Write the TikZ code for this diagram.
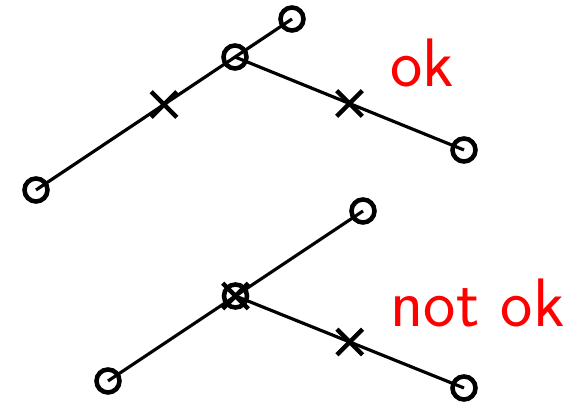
\documentclass[tikz,border=0pt]{standalone}
\usepackage{xcolor}
\usepackage{tikz}
\usetikzlibrary{positioning,shapes.misc}
\tikzset{
  dot/.style={draw, circle, line width=1.3pt, inner sep=0pt, minimum size=0.23cm},
  xmark/.style={draw, cross out, line width=1.3pt, inner sep=0pt, minimum size=0.21cm},
  seg/.style={line width=0.9pt},
  lbl/.style={text=red, font=\fontsize{19.5}{22}\selectfont\sffamily, anchor=base west, inner sep=0pt}
}

\begin{document}
\begin{tikzpicture}[x=0.01cm, y=-0.01cm]
  \useasboundingbox (0,0) rectangle (578,404);
  % ok
  \node[dot] (a1) at (36,190) {};
  \node[dot] (a2) at (235,57) {};
  \node[dot] (a3) at (292,19) {};
  \node[dot] (a4) at (464,150) {};
  \draw[seg] (a1.center) -- node[xmark] (am1) {} (a3.center);
  \draw[seg] (a2.center) -- node[xmark] (am2) {} (a4.center);
  \node[lbl] (ok) at (390,87) {ok};
  % not ok
  \node[dot] (b1) at (108,381) {};
  \node[dot] (b2) at (235.5,296) {};
  \node[dot] (b3) at (363,211) {};
  \node[dot] (b4) at (464,388) {};
  \draw[seg] (b1.center) -- node[xmark] (bm1) {} (b3.center);
  \draw[seg] (b2.center) -- node[xmark] (bm2) {} (b4.center);
  \node[lbl] (notok) at (390,327) {not ok};
\end{tikzpicture}
\end{document}
